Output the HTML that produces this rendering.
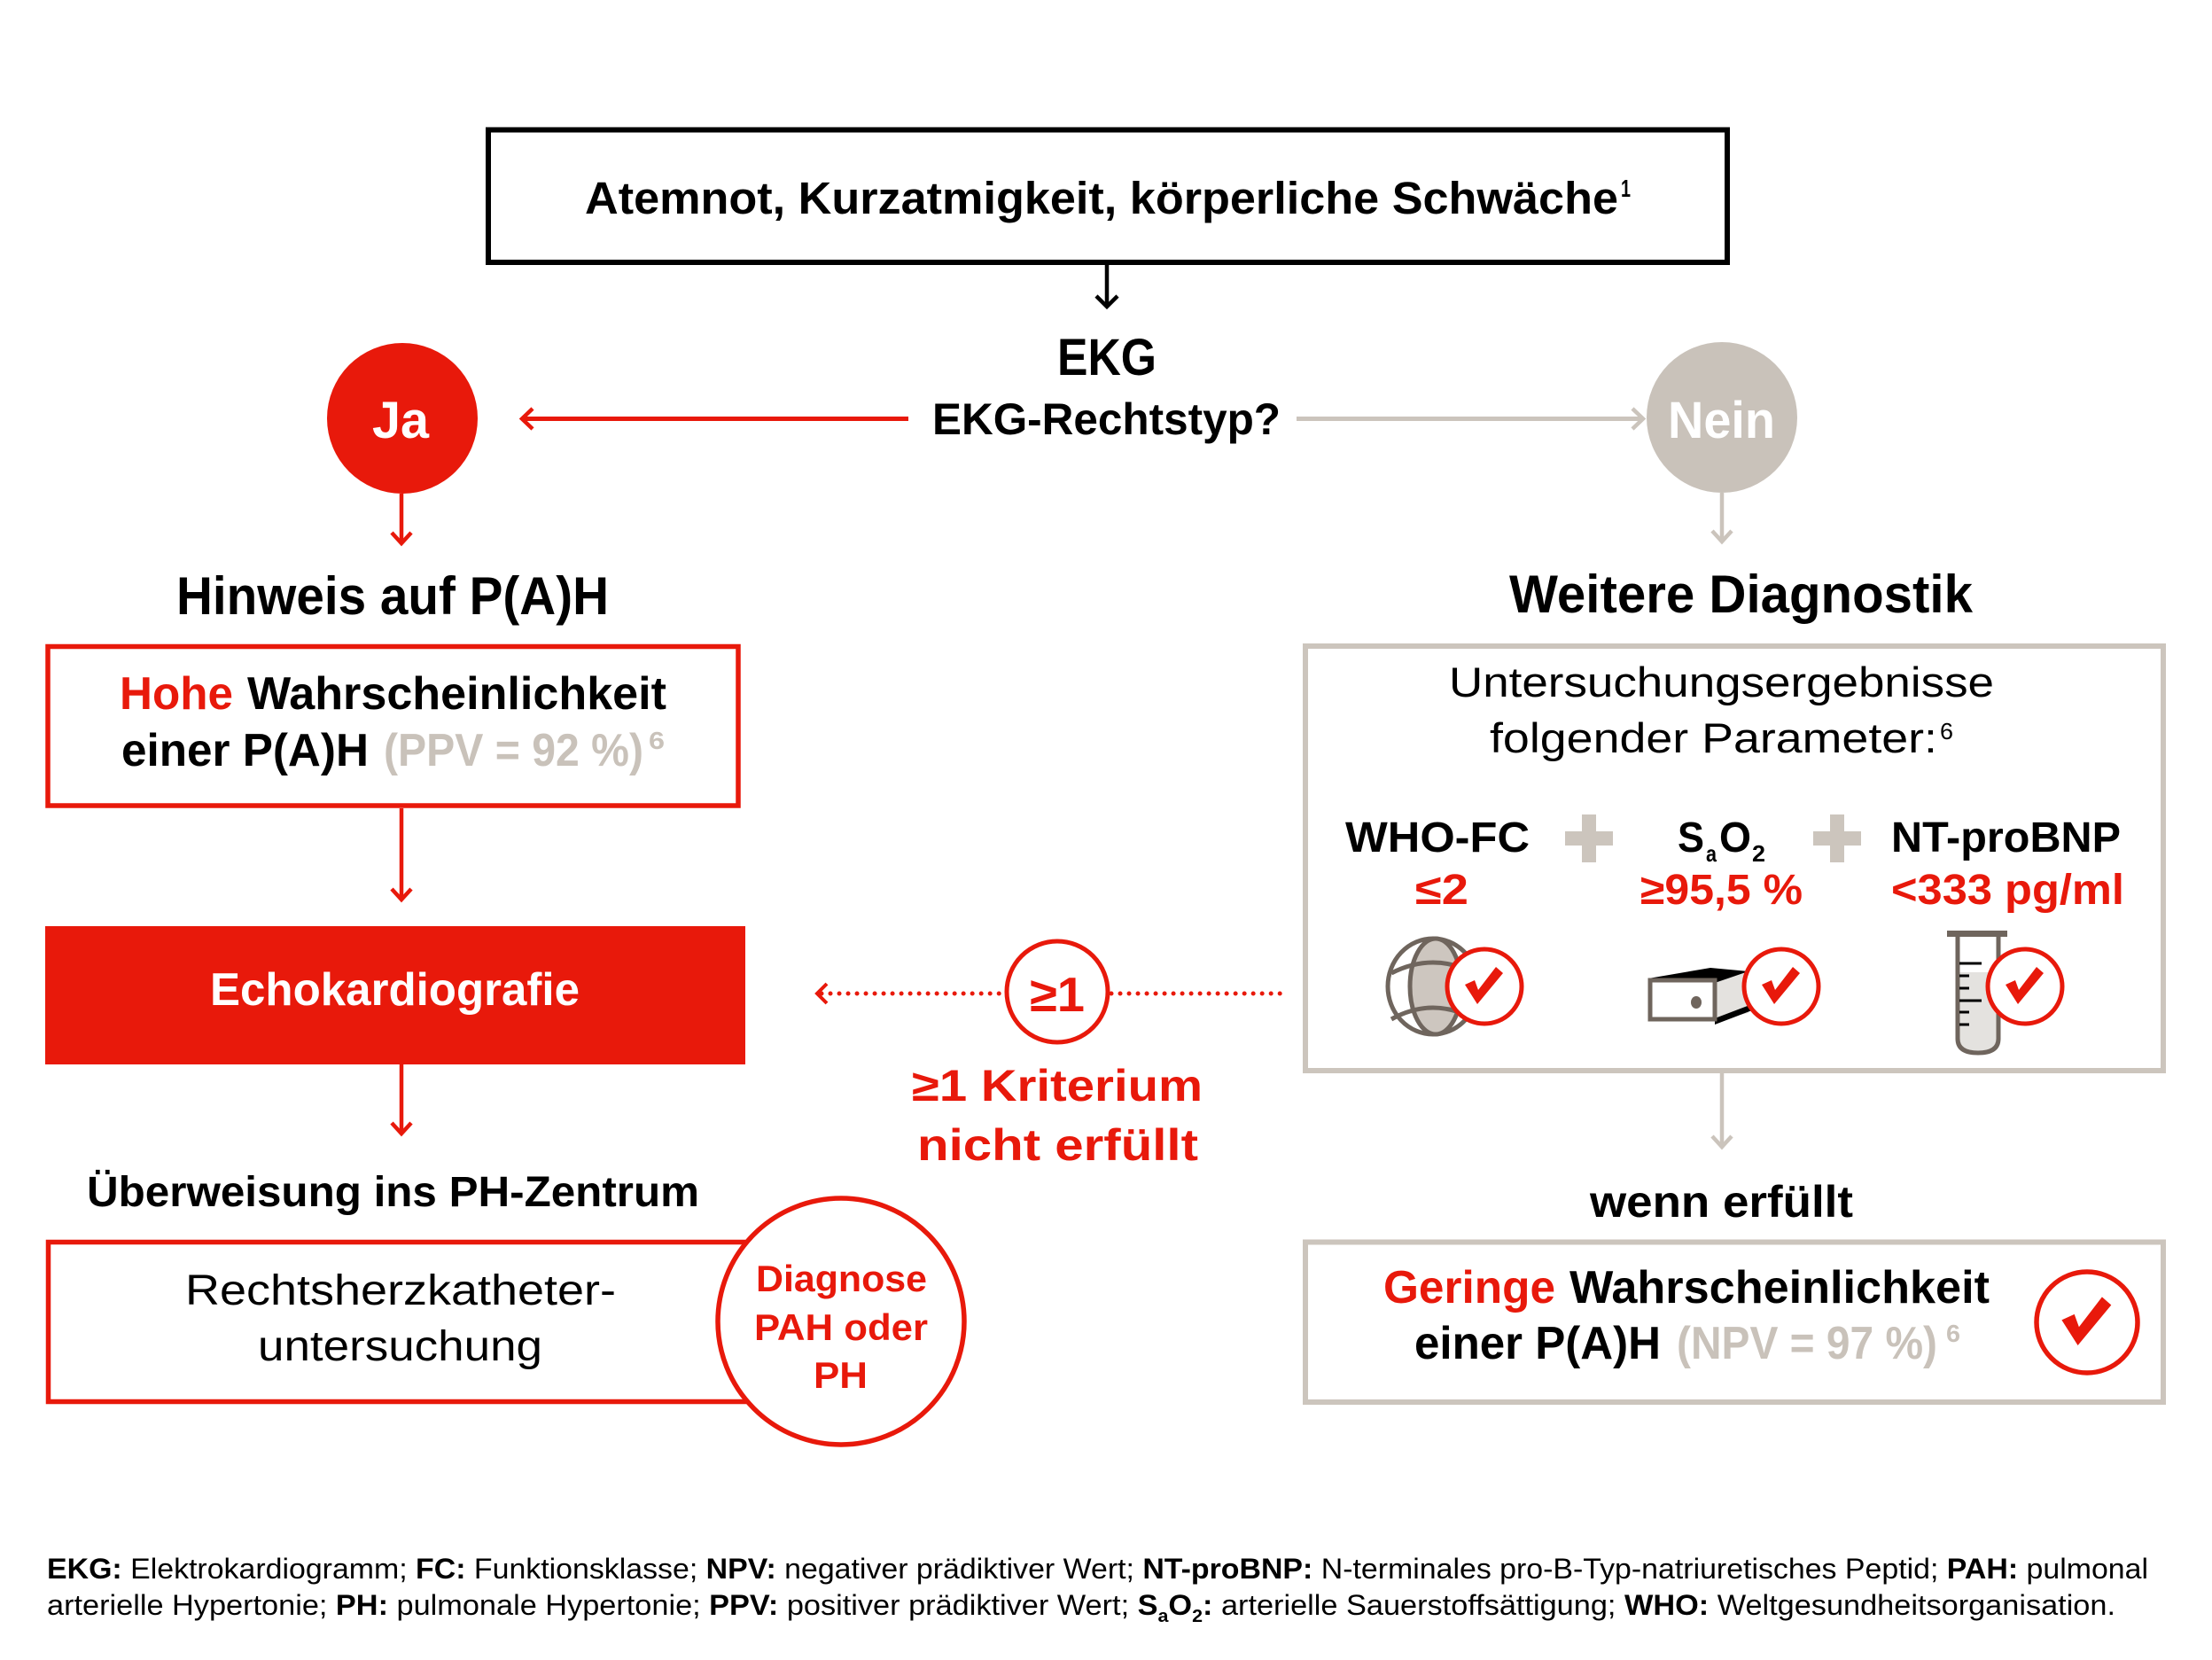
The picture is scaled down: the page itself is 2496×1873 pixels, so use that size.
<!DOCTYPE html>
<html><head><meta charset="utf-8"><style>
html,body{margin:0;padding:0;background:#fff;}
svg{display:block;}
text{font-family:"Liberation Sans",Arial,sans-serif;}
.b{font-weight:700;}
</style></head><body>
<svg width="2496" height="1873" viewBox="0 0 2496 1873" xmlns="http://www.w3.org/2000/svg">
<rect width="2496" height="1873" fill="#fff"/>

<!-- Top box -->
<rect x="551" y="146.5" width="1398" height="149.5" fill="none" stroke="#000" stroke-width="6"/>
<text class="b" x="660" y="241" font-size="51" textLength="1166" lengthAdjust="spacingAndGlyphs">Atemnot, Kurzatmigkeit, körperliche Schwäche</text>
<text class="b" x="1829" y="222" font-size="28" textLength="11" lengthAdjust="spacingAndGlyphs">1</text>

<!-- arrow down to EKG -->
<line x1="1249" y1="299" x2="1249" y2="345" stroke="#000" stroke-width="4.5"/>
<polyline points="1237,334 1249,346 1261,334" fill="none" stroke="#000" stroke-width="4.5"/>

<text class="b" x="1193" y="423" font-size="58" textLength="112" lengthAdjust="spacingAndGlyphs">EKG</text>
<text class="b" x="1052" y="490" font-size="50" textLength="393" lengthAdjust="spacingAndGlyphs">EKG-Rechtstyp?</text>

<!-- red arrow to Ja -->
<line x1="1025" y1="472.5" x2="591" y2="472.5" stroke="#e8190b" stroke-width="5"/>
<polyline points="601,461 589,472.5 601,484" fill="none" stroke="#e8190b" stroke-width="4.5"/>
<!-- gray arrow to Nein -->
<line x1="1463" y1="472.5" x2="1851" y2="472.5" stroke="#cbc4bc" stroke-width="5"/>
<polyline points="1842,461 1854,472.5 1842,484" fill="none" stroke="#cbc4bc" stroke-width="4.5"/>

<!-- Ja / Nein circles -->
<circle cx="454" cy="472" r="85" fill="#e8190b"/>
<text class="b" x="420" y="494" font-size="58" fill="#fff" textLength="64" lengthAdjust="spacingAndGlyphs">Ja</text>
<circle cx="1943" cy="471" r="85" fill="#c9c2ba"/>
<text class="b" x="1882" y="494" font-size="58" fill="#fff" textLength="121" lengthAdjust="spacingAndGlyphs">Nein</text>

<!-- arrows down -->
<line x1="453" y1="557" x2="453" y2="611" stroke="#e8190b" stroke-width="4.5"/>
<polyline points="442,601 453,613 464,601" fill="none" stroke="#e8190b" stroke-width="4.5"/>
<line x1="1943" y1="556" x2="1943" y2="609" stroke="#cbc4bc" stroke-width="4.5"/>
<polyline points="1932,599 1943,611 1954,599" fill="none" stroke="#cbc4bc" stroke-width="4.5"/>

<text class="b" x="199" y="693" font-size="60" textLength="488" lengthAdjust="spacingAndGlyphs">Hinweis auf P(A)H</text>
<text class="b" x="1703" y="691" font-size="60" textLength="523" lengthAdjust="spacingAndGlyphs">Weitere Diagnostik</text>

<!-- Red box 1 -->
<rect x="54" y="729.5" width="779" height="179.5" fill="none" stroke="#e8190b" stroke-width="5.5"/>
<text class="b" x="135" y="800" font-size="52" fill="#e8190b" textLength="128" lengthAdjust="spacingAndGlyphs">Hohe</text>
<text class="b" x="279" y="800" font-size="52" textLength="473" lengthAdjust="spacingAndGlyphs">Wahrscheinlichkeit</text>
<text class="b" x="137" y="864" font-size="52" textLength="279" lengthAdjust="spacingAndGlyphs">einer P(A)H</text>
<text class="b" x="433" y="864" font-size="52" fill="#c9c2ba" textLength="293" lengthAdjust="spacingAndGlyphs">(PPV = 92 %)</text>
<text class="b" x="732" y="845" font-size="28" fill="#c9c2ba" textLength="18" lengthAdjust="spacingAndGlyphs">6</text>

<!-- arrow box1 -> Echo -->
<line x1="453" y1="912" x2="453" y2="1013" stroke="#e8190b" stroke-width="4.5"/>
<polyline points="442,1003 453,1015 464,1003" fill="none" stroke="#e8190b" stroke-width="4.5"/>

<!-- Echo box -->
<rect x="51" y="1045" width="790" height="156" fill="#e8190b"/>
<text class="b" x="237" y="1134" font-size="52" fill="#fff" textLength="417" lengthAdjust="spacingAndGlyphs">Echokardiografie</text>

<!-- arrow Echo -> Überweisung -->
<line x1="453" y1="1201" x2="453" y2="1277" stroke="#e8190b" stroke-width="4.5"/>
<polyline points="442,1267 453,1279 464,1267" fill="none" stroke="#e8190b" stroke-width="4.5"/>

<text class="b" x="98" y="1361" font-size="48" textLength="691" lengthAdjust="spacingAndGlyphs">Überweisung ins PH-Zentrum</text>

<!-- Rechtsherz box -->
<rect x="54.5" y="1401.5" width="880" height="180" fill="none" stroke="#e8190b" stroke-width="5.5"/>
<text x="209" y="1472" font-size="48" textLength="486" lengthAdjust="spacingAndGlyphs">Rechtsherzkatheter-</text>
<text x="291" y="1535" font-size="48" textLength="321" lengthAdjust="spacingAndGlyphs">untersuchung</text>

<!-- Diagnose circle -->
<circle cx="949" cy="1491" r="139" fill="#fff" stroke="#e8190b" stroke-width="5.5"/>
<text class="b" x="853" y="1457" font-size="42" fill="#e8190b" textLength="193" lengthAdjust="spacingAndGlyphs">Diagnose</text>
<text class="b" x="851" y="1512" font-size="42" fill="#e8190b" textLength="196" lengthAdjust="spacingAndGlyphs">PAH oder</text>
<text class="b" x="918" y="1566" font-size="42" fill="#e8190b" textLength="61" lengthAdjust="spacingAndGlyphs">PH</text>

<!-- dotted arrow -->
<line x1="927" y1="1121" x2="1134" y2="1121" stroke="#e8190b" stroke-width="5" stroke-linecap="round" stroke-dasharray="0.01 10"/>
<line x1="1254" y1="1121" x2="1452" y2="1121" stroke="#e8190b" stroke-width="5" stroke-linecap="round" stroke-dasharray="0.01 10"/>
<polyline points="933,1110 922,1121 933,1132" fill="none" stroke="#e8190b" stroke-width="4"/>
<circle cx="1193" cy="1119" r="57" fill="#fff" stroke="#e8190b" stroke-width="5"/>
<text class="b" x="1162" y="1141" font-size="55" fill="#e8190b" textLength="62" lengthAdjust="spacingAndGlyphs">≥1</text>
<text class="b" x="1029" y="1242" font-size="50" fill="#e8190b" textLength="328" lengthAdjust="spacingAndGlyphs">≥1 Kriterium</text>
<text class="b" x="1035" y="1309" font-size="50" fill="#e8190b" textLength="317" lengthAdjust="spacingAndGlyphs">nicht erfüllt</text>

<!-- Gray box 1 -->
<rect x="1473" y="729" width="968" height="479" fill="none" stroke="#ccc5bd" stroke-width="6"/>
<text x="1635" y="786" font-size="47" textLength="615" lengthAdjust="spacingAndGlyphs">Untersuchungsergebnisse</text>
<text x="1681" y="849" font-size="47" textLength="505" lengthAdjust="spacingAndGlyphs">folgender Parameter:</text>
<text x="2189" y="834" font-size="26" textLength="15" lengthAdjust="spacingAndGlyphs">6</text>

<text class="b" x="1518" y="961" font-size="48" textLength="208" lengthAdjust="spacingAndGlyphs">WHO-FC</text>
<text class="b" x="1893" y="961" font-size="48" textLength="30" lengthAdjust="spacingAndGlyphs">S</text>
<text class="b" x="1925" y="972" font-size="26" textLength="12" lengthAdjust="spacingAndGlyphs">a</text>
<text class="b" x="1940" y="961" font-size="48" textLength="36" lengthAdjust="spacingAndGlyphs">O</text>
<text class="b" x="1977" y="972" font-size="26" textLength="15" lengthAdjust="spacingAndGlyphs">2</text>
<text class="b" x="2134" y="961" font-size="48" textLength="259" lengthAdjust="spacingAndGlyphs">NT-proBNP</text>

<!-- plus signs -->
<rect x="1766" y="938" width="54" height="16" fill="#ccc5bd"/>
<rect x="1785" y="919" width="16" height="54" fill="#ccc5bd"/>
<rect x="2046" y="938" width="54" height="16" fill="#ccc5bd"/>
<rect x="2065" y="919" width="16" height="54" fill="#ccc5bd"/>

<text class="b" x="1597" y="1020" font-size="48" fill="#e8190b" textLength="60" lengthAdjust="spacingAndGlyphs">≤2</text>
<text class="b" x="1851" y="1020" font-size="48" fill="#e8190b" textLength="183" lengthAdjust="spacingAndGlyphs">≥95,5 %</text>
<text class="b" x="2134" y="1020" font-size="48" fill="#e8190b" textLength="263" lengthAdjust="spacingAndGlyphs">&lt;333 pg/ml</text>

<!-- Globe icon -->
<ellipse cx="1617" cy="1113" rx="51" ry="54" fill="#fff" stroke="#6f655d" stroke-width="5"/>
<ellipse cx="1620" cy="1113" rx="29" ry="54" fill="#cdc6bf" stroke="#6f655d" stroke-width="5"/>
<path d="M1570,1098 Q1617,1074 1664,1098" fill="none" stroke="#6f655d" stroke-width="5"/>
<path d="M1570,1150 Q1617,1124 1664,1150" fill="none" stroke="#6f655d" stroke-width="5"/>
<circle cx="1675" cy="1113" r="42" fill="#fff" stroke="#e8190b" stroke-width="5"/>
<path transform="translate(1675,1113)" d="M-22,-2 L-11,-7 L-7,4 L13,-22 L21,-15 L-8,20 Z" fill="#e8190b"/>

<!-- Box icon -->
<polygon points="1935,1109 1973,1096 1973,1143 1935,1151" fill="#e4e2df"/>
<polygon points="1860,1104 1930,1092 1973,1096 1935,1109" fill="#000"/>
<polygon points="1935,1149 1977,1133 1977,1140 1935,1156" fill="#000"/>
<rect x="1862" y="1106" width="73" height="44" fill="#fff" stroke="#6f655d" stroke-width="5"/>
<ellipse cx="1914" cy="1131" rx="6" ry="7" fill="#6f655d"/>
<circle cx="2010" cy="1113" r="42" fill="#fff" stroke="#e8190b" stroke-width="5"/>
<path transform="translate(2010,1113)" d="M-22,-2 L-11,-7 L-7,4 L13,-22 L21,-15 L-8,20 Z" fill="#e8190b"/>

<!-- Test tube icon -->
<path d="M2209,1097 L2209,1172 Q2209,1188 2232,1188 Q2255,1188 2255,1172 L2255,1097 Z" fill="#e4e2df"/>
<path d="M2209,1055 L2209,1172 Q2209,1188 2232,1188 Q2255,1188 2255,1172 L2255,1055" fill="none" stroke="#6f655d" stroke-width="5"/>
<rect x="2197" y="1050" width="68" height="7" fill="#6f655d"/>
<g stroke="#000" stroke-width="3">
<line x1="2211" y1="1087" x2="2236" y2="1087"/>
<line x1="2211" y1="1101" x2="2222" y2="1101"/>
<line x1="2211" y1="1115" x2="2222" y2="1115"/>
<line x1="2211" y1="1129" x2="2236" y2="1129"/>
<line x1="2211" y1="1142" x2="2222" y2="1142"/>
<line x1="2211" y1="1156" x2="2222" y2="1156"/>
</g>
<circle cx="2285" cy="1113" r="42" fill="#fff" stroke="#e8190b" stroke-width="5"/>
<path transform="translate(2285,1113)" d="M-22,-2 L-11,-7 L-7,4 L13,-22 L21,-15 L-8,20 Z" fill="#e8190b"/>

<!-- gray arrow to wenn erfüllt -->
<line x1="1943" y1="1211" x2="1943" y2="1292" stroke="#cbc4bc" stroke-width="4.5"/>
<polyline points="1932,1282 1943,1294 1954,1282" fill="none" stroke="#cbc4bc" stroke-width="4.5"/>
<text class="b" x="1794" y="1373" font-size="50" textLength="297" lengthAdjust="spacingAndGlyphs">wenn erfüllt</text>

<!-- Gray box 2 -->
<rect x="1473" y="1401.5" width="968" height="180.5" fill="none" stroke="#ccc5bd" stroke-width="6"/>
<text class="b" x="1561" y="1470" font-size="52" fill="#e8190b" textLength="194" lengthAdjust="spacingAndGlyphs">Geringe</text>
<text class="b" x="1771" y="1470" font-size="52" textLength="474" lengthAdjust="spacingAndGlyphs">Wahrscheinlichkeit</text>
<text class="b" x="1596" y="1533" font-size="52" textLength="278" lengthAdjust="spacingAndGlyphs">einer P(A)H</text>
<text class="b" x="1892" y="1533" font-size="52" fill="#c9c2ba" textLength="294" lengthAdjust="spacingAndGlyphs">(NPV = 97 %)</text>
<text class="b" x="2196" y="1514" font-size="28" fill="#c9c2ba" textLength="16" lengthAdjust="spacingAndGlyphs">6</text>
<circle cx="2355" cy="1492" r="57" fill="#fff" stroke="#e8190b" stroke-width="5.5"/>
<path transform="translate(2355,1492) scale(1.3)" d="M-22,-2 L-11,-7 L-7,4 L13,-22 L21,-15 L-8,20 Z" fill="#e8190b"/>

<!-- Footer -->
<text x="53" y="1781" font-size="32" textLength="2371" lengthAdjust="spacingAndGlyphs"><tspan class="b">EKG:</tspan> Elektrokardiogramm; <tspan class="b">FC:</tspan> Funktionsklasse; <tspan class="b">NPV:</tspan> negativer prädiktiver Wert; <tspan class="b">NT-proBNP:</tspan> N-terminales pro-B-Typ-natriuretisches Peptid; <tspan class="b">PAH:</tspan> pulmonal</text>
<text x="53" y="1822" font-size="32" textLength="2334" lengthAdjust="spacingAndGlyphs">arterielle Hypertonie; <tspan class="b">PH:</tspan> pulmonale Hypertonie; <tspan class="b">PPV:</tspan> positiver prädiktiver Wert; <tspan class="b">S</tspan><tspan class="b" font-size="20" dy="8">a</tspan><tspan class="b" dy="-8">O</tspan><tspan class="b" font-size="20" dy="8">2</tspan><tspan class="b" dy="-8">:</tspan> arterielle Sauerstoffsättigung; <tspan class="b">WHO:</tspan> Weltgesundheitsorganisation.</text>
</svg>
</body></html>
